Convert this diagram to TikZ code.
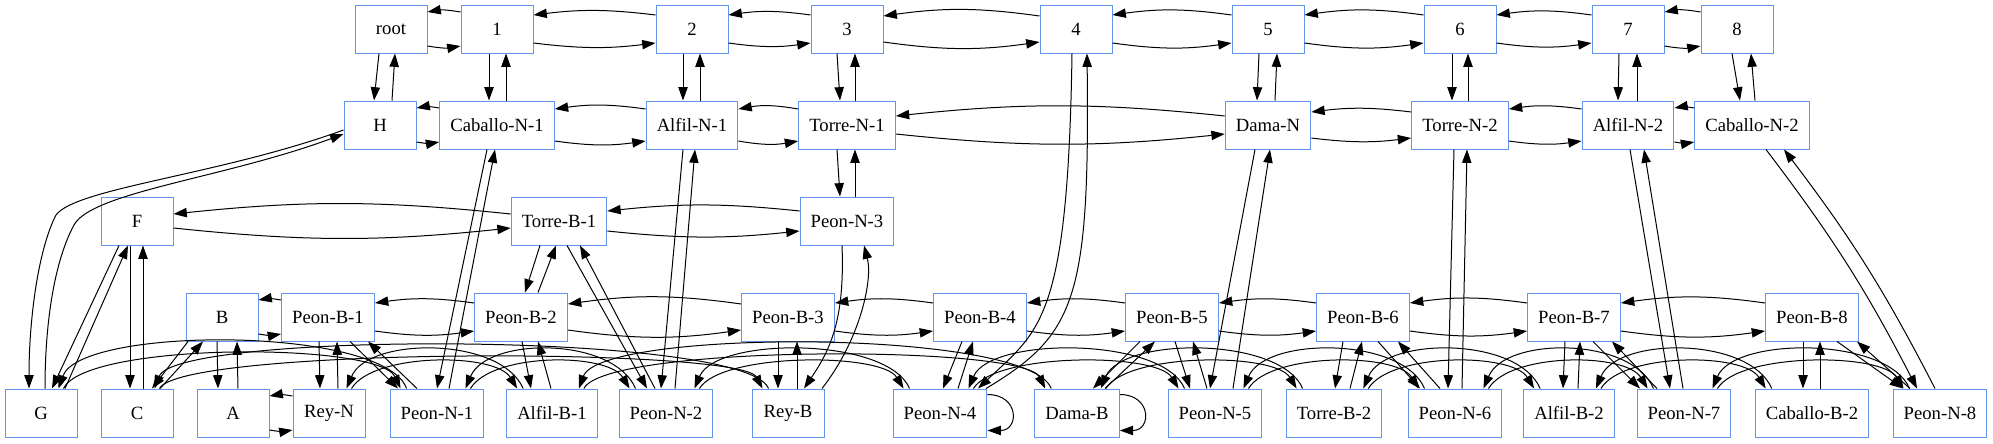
\documentclass[tikz,border=0pt]{standalone}
\usepackage{fontspec}
\setmainfont{Liberation Serif}
\usetikzlibrary{arrows.meta,calc}
\definecolor{nodeblue}{RGB}{100,149,237}
\tikzset{
  >={Triangle[length=10pt,width=7pt]},
  bx/.style={draw=nodeblue,rectangle,minimum width=54pt,minimum height=36pt,
    inner xsep=8pt,inner ysep=4pt,font=\fontsize{14}{16}\selectfont},
  every picture/.style={line width=0.75pt},
}

\begin{document}
\begin{tikzpicture}[x=0.75pt,y=-0.75pt]
\useasboundingbox (0,0) rectangle (1993,443);
% rows of boxes
\foreach \nm/\xx/\lb in {root/391/root,n1/497/1,n2/692/2,n3/847/3,n4/1076/4,n5/1268/5,n6/1460/6,n7/1628/7,n8/1737/8}
  \node[bx] (\nm) at (\xx,29) {\lb};
\foreach \nm/\xx/\lb in {hH/380/H,cn1/497/Caballo-N-1,an1/692/Alfil-N-1,tn1/847/Torre-N-1,dn/1268/Dama-N,tn2/1460/Torre-N-2,an2/1628/Alfil-N-2,cn2/1752/Caballo-N-2}
  \node[bx] (\nm) at (\xx,125) {\lb};
\foreach \nm/\xx/\lb in {hF/137/F,tb1/559/Torre-B-1,pn3/847/Peon-N-3}
  \node[bx] (\nm) at (\xx,221) {\lb};
\foreach \nm/\xx/\lb in {hB/222/B,pb1/328/Peon-B-1,pb2/521/Peon-B-2,pb3/788/Peon-B-3,pb4/980/Peon-B-4,pb5/1172/Peon-B-5,pb6/1363/Peon-B-6,pb7/1574/Peon-B-7,pb8/1812/Peon-B-8}
  \node[bx] (\nm) at (\xx,317) {\lb};
\foreach \nm/\xx/\lb in {hG/41/G,hC/137/C,hA/233/A,rn/329/Rey-N,pn1/437/Peon-N-1,ab1/552/Alfil-B-1,pn2/666/Peon-N-2,rb/788/Rey-B,pn4/940/Peon-N-4,db/1077/Dama-B,pn5/1215/Peon-N-5,tb2/1334/Torre-B-2,pn6/1455/Peon-N-6,ab2/1569/Alfil-B-2,pn7/1684/Peon-N-7,cb2/1812/Caballo-B-2,pn8/1940/Peon-N-8}
  \node[bx] (\nm) at (\xx,413) {\lb};
% left/right links
\foreach \a/\b/\s/\g in {root/n1/17/10,n1/n2/14/7,n2/n3/14/8,n3/n4/13/8,n4/n5/14/8,n5/n6/14/8,n6/n7/14/8,n7/n8/17/10,
  hH/cn1/17/10,cn1/an1/16/8,an1/tn1/16/10,tn1/dn/9/6,dn/tn2/13/7,tn2/an2/16/8,an2/cn2/17/10,
  hF/tb1/7/6,tb1/pn3/10/6,
  hB/pb1/17/10,pb1/pb2/14/8,pb2/pb3/13/8,pb3/pb4/14/8,pb4/pb5/14/8,pb5/pb6/14/8,pb6/pb7/14/8,pb7/pb8/14/8,
  hA/rn/17/10}{
  \draw[->] ($(\b.west)+(0,-\s)$) to[bend right=\g] ($(\a.east)+(0,-\s)$);
  \draw[->] ($(\a.east)+(0,\s)$) to[bend right=\g] ($(\b.west)+(0,\s)$);
}
% up/down links
\foreach \a/\b/\p/\q/\r/\s in {root/hH/-12/-6/12/4,n1/cn1/-8/-8/9/9,n2/an1/-9/-9/8/8,n3/tn1/-10/-7/8/8,
  n5/dn/-9/-11/7/9,n6/tn2/-8/-8/8/8,n7/an2/-9/-10/9/9,n8/cn2/-5/-12/3/14,
  tn1/pn3/-10/-7/8/8,tb1/pb2/-19/4/17/-3,pb1/rn/-9/-9/9/9,pb3/rb/-10/-10/9/9,pb8/cb2/-9/-9/8/8,
  hF/hC/-7/-7/6/6,hF/hG/-18/11/24/-9,hB/hC/-34/15/23/-19,hB/hA/-5/-15/5/15,
  pb2/ab1/1/-21/-1/17,pb4/pn4/-18/3/18/-7,pb5/db/-32/16/28/-17,pb5/pn5/3/-25/-8/21,
  pb6/tb2/-20/1/16/-1,pb6/pn6/15/-35/-15/35,pb7/ab2/-9/-6/9/6,pb7/pn7/19/-44/-27/38,
  pb8/pn8/25/-37/-30/45,pb1/pn1/22/-39/-20/40,
  cn1/pn1/-10/0/12/-2,an1/pn2/-9/-5/9/3,tb1/pn2/8/-19/-11/21,dn/pn5/-13/-5/18/2,
  tn2/pn6/-6/-7/7/7,an2/pn7/2/-14/-1/16}{
  \draw[->] ($(\a.south)+(\p,0)$) -- ($(\b.north)+(\q,0)$);
  \draw[->] ($(\b.north)+(\r,0)$) -- ($(\a.south)+(\s,0)$);
}
\draw[->] ($(cn2.south)+(14,0)$) to[bend left=5] ($(pn8.north)+(-23,0)$);
\draw[->] ($(pn8.north)+(-5,0)$) to[bend right=5] ($(cn2.south)+(32,0)$);
% 4 and Peon-N-4
\draw[->] ($(n4.south)+(-4,0)$) .. controls (1068,320) and (1040,330) .. ($(pn4.north)+(38,0)$);
\draw[->] ($(pn4.north)+(46,0)$) .. controls (1075,335) and (1090,300) .. ($(n4.south)+(11,0)$);
% Peon-N-3 and Rey-B
\draw[->] ($(pn3.south)+(-5,0)$) .. controls (845,320) and (830,350) .. ($(rb.north)+(16,0)$);
\draw[->] ($(rb.north)+(34,0)$) .. controls (860,340) and (873,280) .. ($(pn3.south)+(17,0)$);
% H and G
\draw[->] ($(hH.west)+(0,5)$) .. controls (220,175) and (76,188) .. (56,215)
  .. controls (38,250) and (29,320) .. ($(hG.north)+(-12,0)$);
\draw[->] ($(hG.north)+(4,0)$) .. controls (45,320) and (55,260) .. (74,225)
  .. controls (92,192) and (225,178) .. ($(hH.west)+(0,9)$);
% links along the bottom row
\foreach \u/\v/\p in {hG/pn1/354,pn1/pn2/362,pn2/pn4/362,pn4/pn5/362,pn5/pn6/362,pn6/pn7/362,pn7/pn8/362,
  hC/rb/358,rn/ab1/362,ab1/db/356,db/tb2/362,tb2/ab2/362,ab2/cb2/362}{
  \pgfmathsetmacro{\k}{(389-\p)*4/3}
  \pgfmathsetmacro{\m}{(401-\p)*4/3}
  \draw[->] ($(\u.north east)+(-14,0)$) .. controls +(22,-\k) and +(-22,-\k) .. ($(\v.north west)+(11,0)$);
  \draw[->] ($(\v.north west)+(17,0)$) .. controls +(-22,-\m) and +(22,-\m) .. ($(\u.north east)+(-19,0)$);
}
% loops
\draw[->] ($(pn4.north east)+(0,6)$) .. controls +(32,0) and +(32,0) .. ($(pn4.south east)+(0,-7)$);
\draw[->] ($(db.north east)+(0,6)$) .. controls +(32,0) and +(32,0) .. ($(db.south east)+(0,-7)$);
\end{tikzpicture}
\end{document}
